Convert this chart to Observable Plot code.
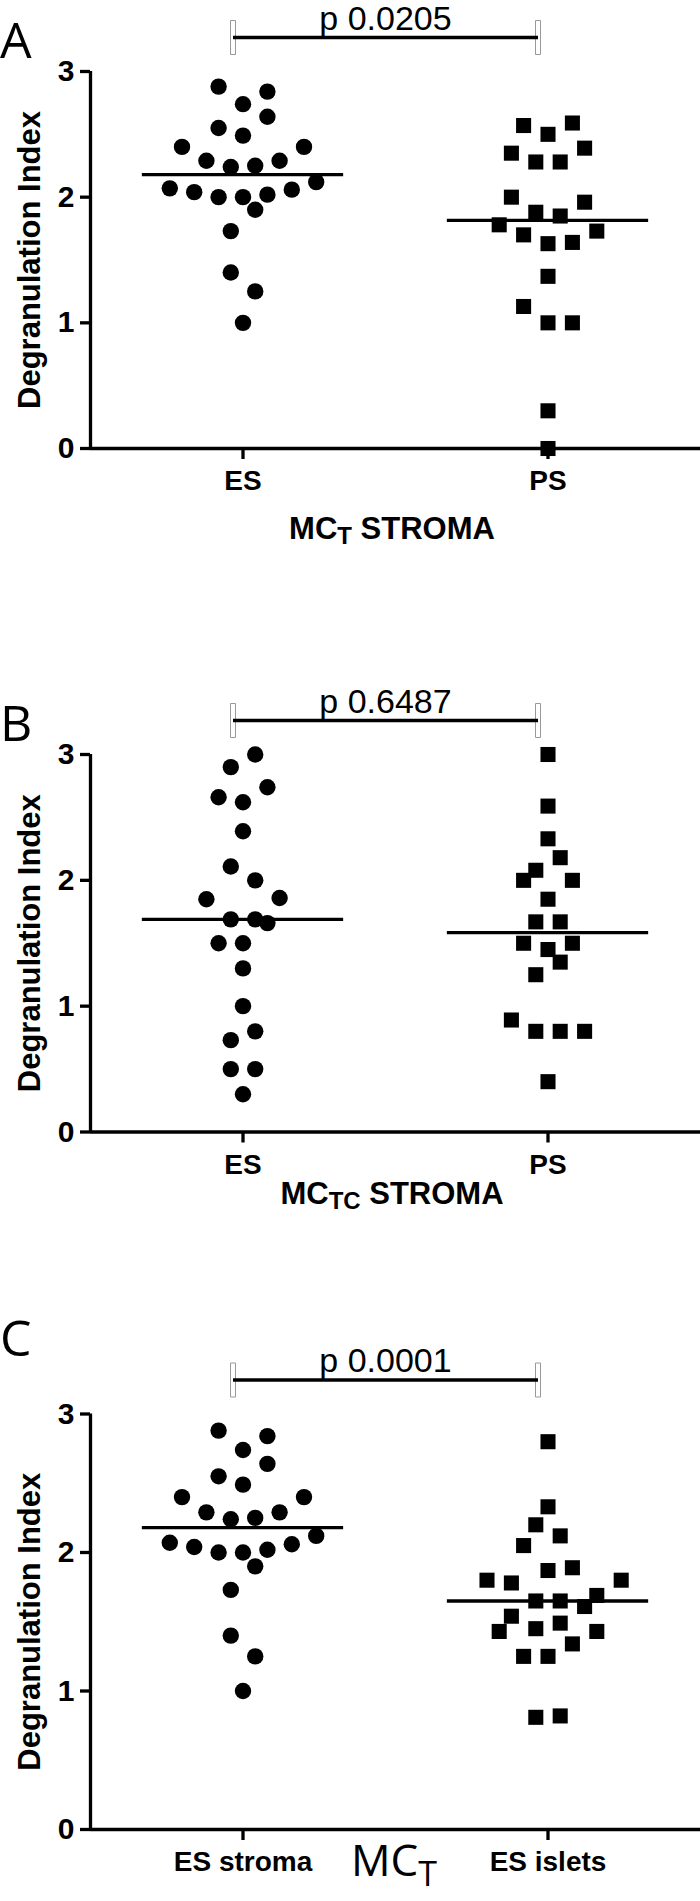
<!DOCTYPE html>
<html>
<head>
<meta charset="utf-8">
<script src="https://cdn.jsdelivr.net/npm/d3@7"></script>
<script src="https://cdn.jsdelivr.net/npm/@observablehq/plot@0.6"></script>
<style>
  body { margin: 0; background: #fff; }
  #wrap { position: relative; width: 700px; height: 1901px; overflow: hidden; background: #fff; }
  .panel { position: absolute; left: 0; }
  .panel svg { overflow: visible; }
  #overlay { position: absolute; left: 0; top: 0; pointer-events: none; }
</style>
</head>
<body>
<div id="wrap"></div>
<script>
// ---------- data ----------
const yTicks = [0, 1, 2, 3];
const yLabel = "Degranulation Index";

// Panel A: MC_T stroma
const groupsA = ["ES", "PS"];
const mctStromaES = [2.88, 2.84, 2.74, 2.64, 2.55, 2.49, 2.40, 2.40, 2.29, 2.29, 2.24, 2.25, 2.12, 2.07, 2.04, 2.00, 2.00, 2.02, 2.06, 1.90, 1.73, 1.40, 1.25, 1.00];
const mctStromaESslot = [-2, 2, 0, 2, -2, 0, -5, 5, -3, 3, -1, 1, 6, -6, -4, -2, 0, 2, 4, 1, -1, -1, 1, 0];
const mctStromaPS = [2.57, 2.59, 2.50, 2.35, 2.39, 2.28, 2.28, 2.00, 1.96, 1.88, 1.85, 1.78, 1.73, 1.70, 1.63, 1.64, 1.37, 1.13, 1.00, 1.00, 0.30, 0.00];
const mctStromaPSslot = [-2, 2, 0, -3, 3, -1, 1, -3, 3, -1, 1, -4, 4, -2, 0, 2, 0, -2, 0, 2, 0, 0];
const pA = "p 0.0205";

// Panel B: MC_TC stroma
const groupsB = ["ES", "PS"];
const mctcStromaES = [3.00, 2.90, 2.74, 2.66, 2.62, 2.39, 2.11, 2.00, 1.85, 1.86, 1.69, 1.69, 1.66, 1.50, 1.50, 1.30, 1.00, 0.80, 0.73, 0.50, 0.50, 0.30];
const mctcStromaESslot = [1, -1, 2, -2, 0, 0, -1, 1, -3, 3, -1, 1, 2, -2, 0, 0, 0, 1, -1, -1, 1, 0];
const mctcStromaPS = [3.00, 2.59, 2.33, 2.18, 2.08, 2.00, 2.00, 1.85, 1.67, 1.67, 1.50, 1.50, 1.45, 1.35, 1.25, 0.89, 0.80, 0.80, 0.80, 0.40];
const mctcStromaPSslot = [0, 0, 0, 1, -1, -2, 2, 0, -1, 1, -2, 2, 0, 1, -1, -3, -1, 1, 3, 0];
const pB = "p 0.6487";

// Panel C: MC_T ES stroma vs ES islets
const groupsC = ["ES stroma", "ES islets"];
const mctIslets = [2.80, 2.33, 2.20, 2.12, 2.05, 1.87, 1.89, 1.80, 1.78, 1.80, 1.69, 1.65, 1.65, 1.61, 1.54, 1.49, 1.45, 1.43, 1.43, 1.34, 1.25, 1.25, 0.81, 0.82];
const mctIsletsSlot = [0, 0, -1, 1, -2, 0, 2, -5, -3, 6, 4, -1, 1, 3, -3, 1, -1, -4, 4, 2, -2, 0, -1, 1];
const pC = "p 0.0001";

// ---------- drawing ----------
const wrap = document.getElementById("wrap");
const FONT = "'Liberation Sans', Arial, Helvetica, sans-serif";
const slotStep = 0.04;      // horizontal spacing of scattered points (in group units)
const halfMedian = 0.33;    // half length of median line (in group units)
const bracketEnd = { draw(ctx) { ctx.rect(-2.5, -17, 5, 34); } };

function panel({ groups, series, pText, top, marginTop, plotH, marginBottom }) {
  const rows = series.flatMap((s, gi) =>
    s.values.map((v, k) => ({ g: gi, v, slot: s.slots[k], sym: s.symbol })));
  const meds = series.map((s, gi) => ({ g: gi, m: d3.median(s.values) }));
  const cmp = [{ a: 0, b: groups.length - 1, p: pText }];
  const H = marginTop + plotH + marginBottom;
  const svg = Plot.plot({
    width: 700, height: H,
    marginLeft: 90, marginRight: 0, marginTop, marginBottom,
    x: { type: "linear", domain: [-0.5, groups.length - 0.5], axis: null },
    y: { domain: [0, 3], axis: null },
    style: { fontFamily: FONT, background: "white", color: "black", overflow: "visible" },
    marks: [
      Plot.axisY({ ticks: yTicks, tickSize: 10, tickPadding: 6, strokeWidth: 3.3,
        fontSize: 30, fontWeight: "bold", label: null, tickFormat: d => String(d) }),
      Plot.axisX({ ticks: groups.map((_, i) => i), tickSize: 11, tickPadding: 11, strokeWidth: 3.3,
        fontSize: 28, fontWeight: "bold", label: null, tickFormat: i => groups[i] }),
      Plot.ruleX([-0.5], { strokeWidth: 3.3 }),
      Plot.ruleY([0], { strokeWidth: 3.3 }),
      Plot.dot(rows.filter(d => d.sym === "circle"), {
        x: d => d.g + d.slot * slotStep, y: "v", r: 8.2, fill: "black", symbol: "circle" }),
      Plot.dot(rows.filter(d => d.sym === "square"), {
        x: d => d.g + d.slot * slotStep, y: "v", r: 8.5, fill: "black", symbol: "square" }),
      Plot.ruleY(meds, { y: "m", x1: d => d.g - halfMedian, x2: d => d.g + halfMedian, strokeWidth: 3.3 }),
      Plot.text([yLabel], { frameAnchor: "left", textAnchor: "middle", lineAnchor: "middle", rotate: -90, dx: -60,
        fontSize: 31, fontWeight: "bold", fill: "black" }),
      // significance bracket
      Plot.dot(cmp.flatMap(c => [c.a, c.b]), { x: d => d, y: () => 3, dx: -10, dy: -34,
        symbol: bracketEnd, fill: "white", stroke: "#999", strokeWidth: 1, r: 5 }),
      Plot.link(cmp, { x1: "a", x2: "b", y1: () => 3, y2: () => 3, dx: -10, dy: -34, strokeWidth: 3.6, stroke: "black" }),
      Plot.text(cmp, { x: d => (d.a + d.b) / 2, y: () => 3, text: "p", dx: -10, dy: -42,
        lineAnchor: "bottom", fontSize: 34, fill: "black" })
    ]
  });
  const div = document.createElement("div");
  div.className = "panel";
  div.style.top = top + "px";
  div.appendChild(svg);
  wrap.appendChild(div);
}

panel({ groups: groupsA, pText: pA, top: 0, marginTop: 71, plotH: 377, marginBottom: 60,
  series: [{ values: mctStromaES, slots: mctStromaESslot, symbol: "circle" },
           { values: mctStromaPS, slots: mctStromaPSslot, symbol: "square" }] });
panel({ groups: groupsB, pText: pB, top: 684, marginTop: 70, plotH: 377.5, marginBottom: 60,
  series: [{ values: mctcStromaES, slots: mctcStromaESslot, symbol: "circle" },
           { values: mctcStromaPS, slots: mctcStromaPSslot, symbol: "square" }] });
panel({ groups: groupsC, pText: pC, top: 1343, marginTop: 70.5, plotH: 415.5, marginBottom: 72,
  series: [{ values: mctStromaES, slots: mctStromaESslot, symbol: "circle" },
           { values: mctIslets, slots: mctIsletsSlot, symbol: "square" }] });

// ---------- overlay texts: panel letters and group titles with subscripts ----------
const ov = d3.select(wrap).append("svg").attr("id", "overlay").attr("width", 700).attr("height", 1901);
const letters = [["A", 0, 58], ["B", 0, 741], ["C", 0, 1356]];
ov.selectAll("text.letter").data(letters).join("text")
  .attr("class", "letter").attr("x", d => d[1]).attr("y", d => d[2])
  .attr("font-family", "'Open Sans', sans-serif").attr("font-size", 50).text(d => d[0]);

function subLabel(x, y, main, sub, rest, opts) {
  const t = ov.append("text").attr("x", x).attr("y", y).attr("text-anchor", "middle")
    .attr("font-family", opts.family).attr("font-weight", opts.weight).attr("font-size", opts.size);
  t.append("tspan").text(main);
  t.append("tspan").attr("font-size", opts.subSize).attr("dy", opts.shift).text(sub);
  if (rest) t.append("tspan").attr("dy", -opts.shift).text(rest);
}
subLabel(392, 539, "MC", "T", " STROMA", { family: FONT, weight: "bold", size: 31, subSize: 24, shift: 5 });
subLabel(392, 1204, "MC", "TC", " STROMA", { family: FONT, weight: "bold", size: 31, subSize: 24, shift: 5 });
subLabel(394, 1876, "MC", "T", "", { family: "'Open Sans', sans-serif", weight: "normal", size: 44, subSize: 34, shift: 10 });
</script>
</body>
</html>
